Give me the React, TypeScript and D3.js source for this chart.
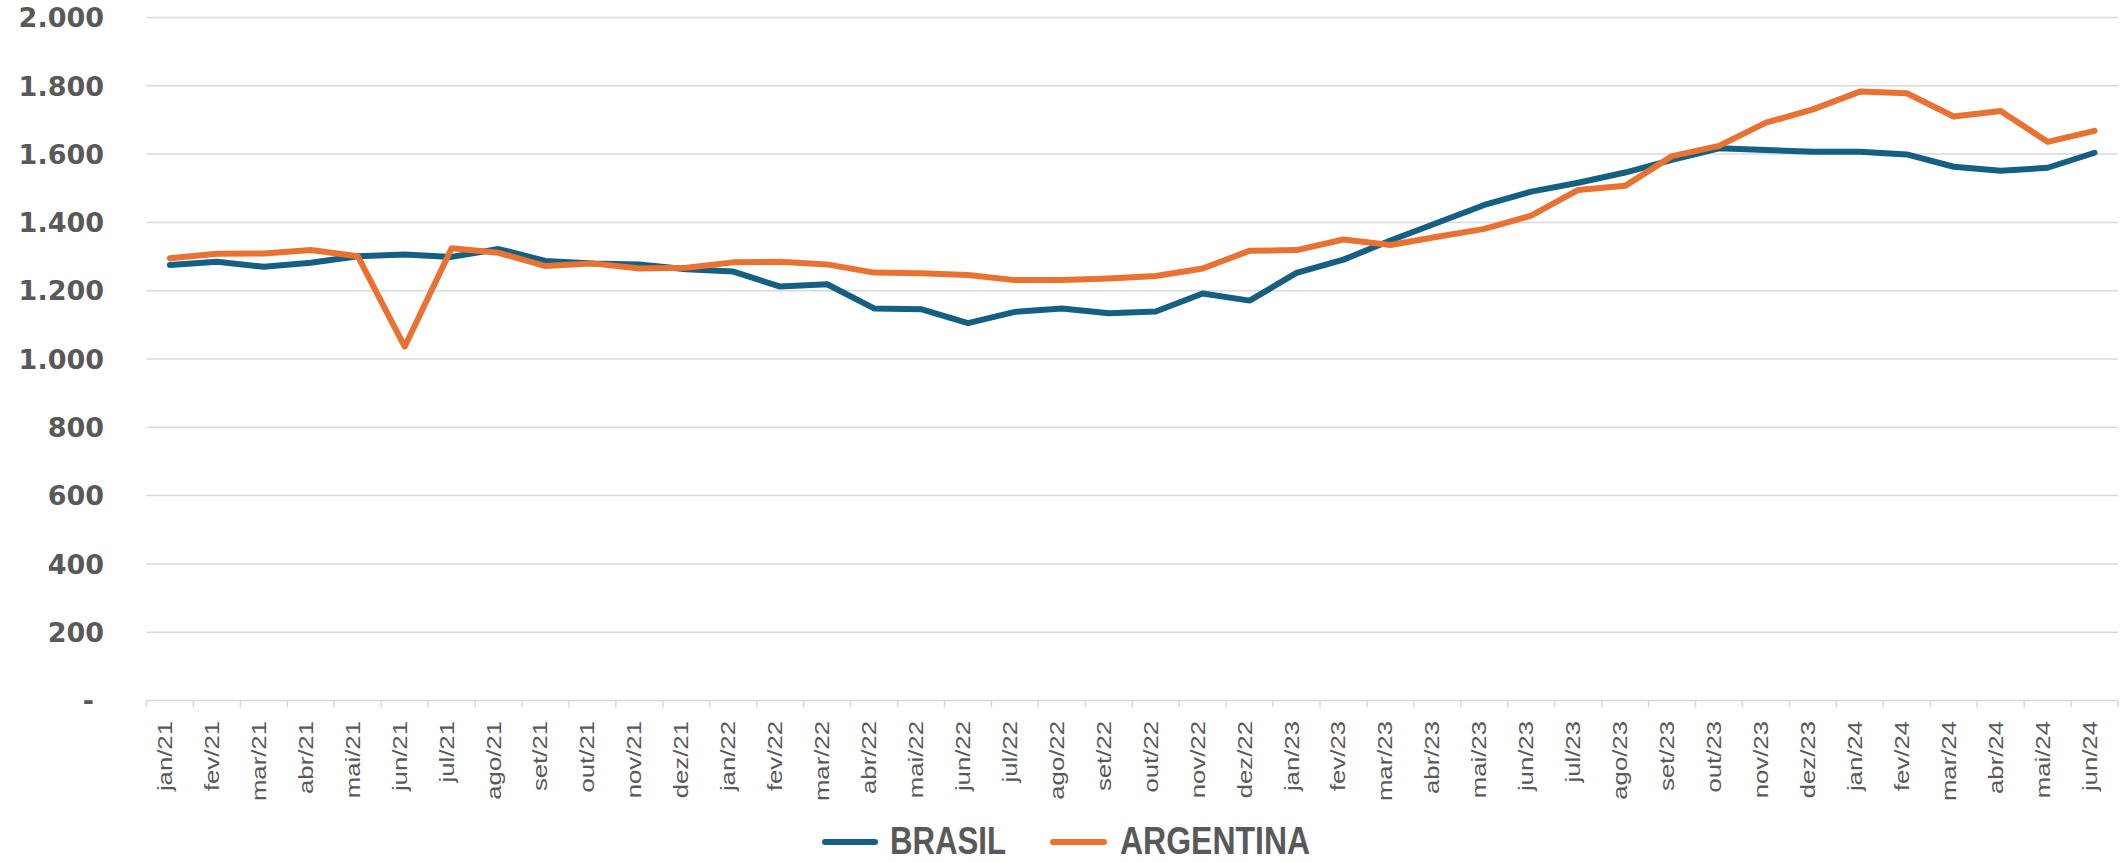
import React from "react";
import * as d3 from "d3";

// mensal, jan/21 a jun/24
const months = [
  "jan/21", "fev/21", "mar/21", "abr/21", "mai/21", "jun/21", "jul/21", "ago/21", "set/21", "out/21", "nov/21", "dez/21",
  "jan/22", "fev/22", "mar/22", "abr/22", "mai/22", "jun/22", "jul/22", "ago/22", "set/22", "out/22", "nov/22", "dez/22",
  "jan/23", "fev/23", "mar/23", "abr/23", "mai/23", "jun/23", "jul/23", "ago/23", "set/23", "out/23", "nov/23", "dez/23",
  "jan/24", "fev/24", "mar/24", "abr/24", "mai/24", "jun/24",
];

const brasil = [
  1275, 1285, 1270, 1282, 1301, 1306, 1299, 1322, 1287, 1280, 1277, 1263,
  1256, 1212, 1219, 1148, 1146, 1105, 1138, 1148, 1134, 1139, 1192, 1171,
  1252, 1291, 1347, 1399, 1451, 1490, 1516, 1546, 1583, 1617, 1612, 1607,
  1607, 1599, 1563, 1551, 1560, 1604,
];

const argentina = [
  1295, 1308, 1309, 1319, 1301, 1036, 1324, 1311, 1272, 1280, 1265, 1267,
  1283, 1285, 1277, 1253, 1251, 1246, 1231, 1231, 1236, 1243, 1265, 1317,
  1319, 1350, 1334, 1358, 1381, 1420, 1495, 1507, 1594, 1624, 1692, 1731,
  1783, 1778, 1710, 1726, 1636, 1668,
];

const yTicks = [0, 200, 400, 600, 800, 1000, 1200, 1400, 1600, 1800, 2000];
const yTickLabels = ["-", "200", "400", "600", "800", "1.000", "1.200", "1.400", "1.600", "1.800", "2.000"];

const series = [
  { name: "BRASIL", values: brasil, color: "#156082" },
  { name: "ARGENTINA", values: argentina, color: "#E97132" },
];

const W = 2124;
const H = 863;
const left = 146.5;
const right = 2118;
const top = 17.5;
const bottom = 700.5;
const grey = "#595959";
const gridColor = "#d9d9d9";

export default function App() {
  const x = d3.scaleBand<string>().domain(months).range([left, right]).paddingInner(0).paddingOuter(0);
  const y = d3.scaleLinear().domain([0, 2000]).range([bottom, top]);
  const bw = x.bandwidth();

  const line = d3
    .line<number>()
    .x((_, i) => (x(months[i]) as number) + bw / 2)
    .y((d) => y(d));

  const tickEdges = months.map((m) => x(m) as number).concat([right]);

  return (
    <svg
      width={W}
      height={H}
      style={{ position: "absolute", left: 0, top: 0, background: "#fff" }}
    >
      {/* grade */}
      {yTicks.filter((t) => t > 0).map((t) => (
        <line key={t} x1={left} x2={right} y1={y(t)} y2={y(t)} stroke={gridColor} strokeWidth={1.5} />
      ))}
      <line x1={left} x2={right} y1={y(0)} y2={y(0)} stroke={gridColor} strokeWidth={1.5} />
      {tickEdges.map((tx, i) => (
        <line key={i} x1={tx} x2={tx} y1={y(0)} y2={y(0) + 7} stroke={gridColor} strokeWidth={1.5} />
      ))}

      {/* eixo y */}
      {yTicks.map((t, i) => (
        <text
          key={t}
          x={t === 0 ? 94 : 104}
          y={y(t)}
          dy="0.36em"
          textAnchor="end"
          fontFamily="DejaVu Sans"
          fontWeight={700}
          fontSize={27}
          fill={grey}
        >
          {yTickLabels[i]}
        </text>
      ))}

      {/* eixo x */}
      {months.map((m) => (
        <text
          key={m}
          transform={`translate(${(x(m) as number) + bw / 2 + 2},721) scale(1,1.32) rotate(-90)`}
          textAnchor="end"
          fontFamily="Liberation Sans, Arial, sans-serif"
          fontSize={19.5}
          fill={grey}
        >
          {m}
        </text>
      ))}

      {/* séries */}
      {series.map((s) => (
        <path
          key={s.name}
          d={line(s.values) as string}
          fill="none"
          stroke={s.color}
          strokeWidth={6}
          strokeLinejoin="round"
          strokeLinecap="round"
        />
      ))}

      {/* legenda */}
      <g>
        <line x1={825} x2={875} y1={842} y2={842} stroke={series[0].color} strokeWidth={6} strokeLinecap="round" />
        <text
          transform="translate(890,854) scale(0.8,1)"
          fontFamily="Liberation Sans, Arial, sans-serif"
          fontWeight={700}
          fontSize={39}
          fill={grey}
        >
          {series[0].name}
        </text>
        <line x1={1053} x2={1104} y1={842} y2={842} stroke={series[1].color} strokeWidth={6} strokeLinecap="round" />
        <text
          transform="translate(1120,854) scale(0.82,1)"
          fontFamily="Liberation Sans, Arial, sans-serif"
          fontWeight={700}
          fontSize={39}
          fill={grey}
        >
          {series[1].name}
        </text>
      </g>
    </svg>
  );
}
